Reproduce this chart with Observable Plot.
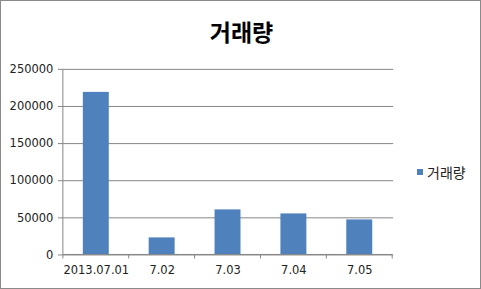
<!DOCTYPE html>
<html><head><meta charset="utf-8">
<script src="https://cdn.jsdelivr.net/npm/d3@7"></script>
<script src="https://cdn.jsdelivr.net/npm/@observablehq/plot@0.6"></script>
<style>
html,body{margin:0;padding:0;background:#fff;}
#wrap{position:relative;width:481px;height:289px;box-sizing:border-box;border:1px solid #8a8a8a;overflow:hidden;background:#fff;}
#chart{position:absolute;left:-1px;top:-1px;}
#title{position:absolute;left:0;top:13px;width:481px;text-align:center;font:bold 23px "Noto Sans CJK KR",sans-serif;color:#000;}
#legend{position:absolute;left:416px;top:161px;font:14px "Noto Sans CJK KR",sans-serif;color:#222;display:flex;align-items:center;}
#legend span.sw{display:inline-block;width:6px;height:6px;background:#4f81bd;margin-right:4px;}
</style></head><body>
<div id="wrap">
<div id="title">거래량</div>
<div id="chart"></div>
<div id="legend"><span class="sw"></span><span id="lt"></span></div>
</div>
<script>
const seriesName = "거래량";
const categories = ["2013.07.01", "7.02", "7.03", "7.04", "7.05"];
const values = [219000, 23000, 60700, 55300, 47200];
const yTicks = [0, 50000, 100000, 150000, 200000, 250000];

document.getElementById("lt").textContent = seriesName;
const data = categories.map((c, i) => ({cat: c, v: values[i]}));
const gray = "#868686";
const plot = Plot.plot({
  width: 481, height: 289,
  marginLeft: 62, marginRight: 87, marginTop: 69, marginBottom: 34,
  style: {fontFamily: "DejaVu Sans, sans-serif", fontSize: "11px", color: "#222", background: "transparent"},
  x: {domain: categories, paddingInner: 0.6, paddingOuter: 0.3, label: null},
  y: {domain: [0, 250000], ticks: yTicks, label: null},
  marks: [
    Plot.gridY(yTicks, {stroke: gray, strokeOpacity: 1}),
    Plot.barY(data, {x: "cat", y: "v", fill: "#4f81bd"}),
    Plot.axisY({ticks: yTicks, tickSize: 4, stroke: gray, tickFormat: d => String(d), tickPadding: 5, fontSize: 11.5}),
    Plot.axisX({tickSize: 0, tickPadding: 11, fontSize: 11.5})
  ]
});
document.getElementById("chart").appendChild(plot);

// category boundary tick marks on the x axis, derived from the band scale
const xs = plot.scale("x");
const ys = plot.scale("y");
const step = xs.step;
const svg = d3.select(plot);
const y0 = ys.apply(0);
const x0 = xs.apply(categories[0]) - (step - xs.bandwidth) / 2;
const bounds = d3.range(categories.length + 1).map(i => x0 + i * step);
svg.append("g").selectAll("line").data(bounds).join("line")
  .attr("x1", d => d).attr("x2", d => d).attr("y1", y0).attr("y2", y0 + 4)
  .attr("stroke", gray);
svg.append("line").attr("x1", bounds[0]).attr("x2", bounds[bounds.length-1])
  .attr("y1", y0).attr("y2", y0).attr("stroke", gray);
svg.append("line").attr("x1", bounds[0]).attr("x2", bounds[0])
  .attr("y1", ys.apply(250000)).attr("y2", y0).attr("stroke", gray);
</script>
</body></html>
